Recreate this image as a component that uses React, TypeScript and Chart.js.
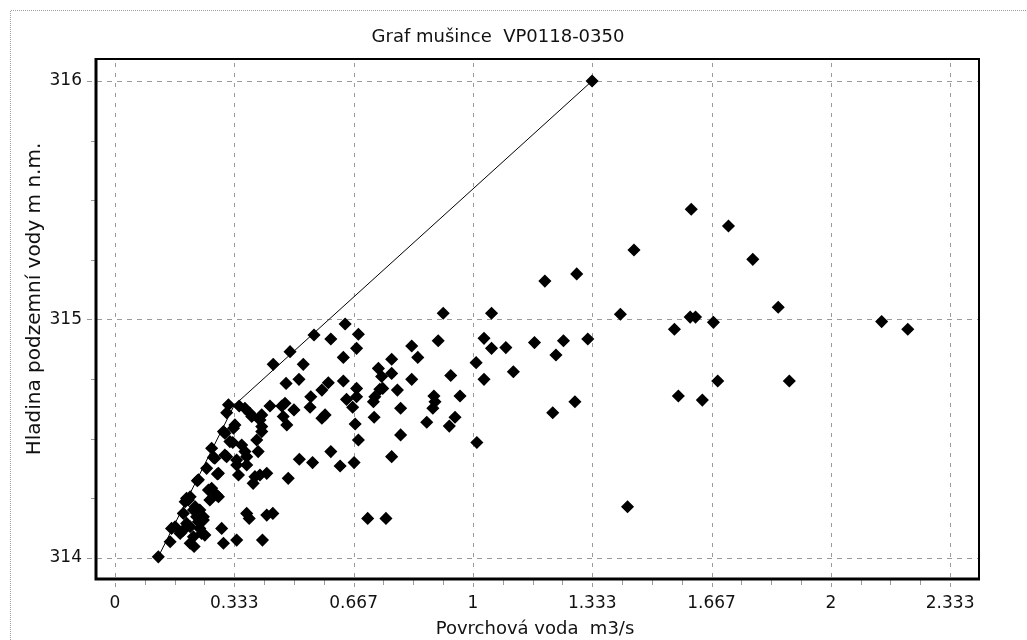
import React, { useEffect, useRef } from "react";
import { Chart, registerables } from "chart.js";

Chart.register(...registerables);

const chartTitle = "Graf mušince  VP0118-0350";
const xAxisTitle = "Povrchová voda  m3/s";
const yAxisTitle = "Hladina podzemní vody m n.m.";

const xTickValues = [0, 0.33333, 0.66667, 1, 1.33333, 1.66667, 2, 2.33333];
const xTickLabels = ["0", "0.333", "0.667", "1", "1.333", "1.667", "2", "2.333"];
const yTickValues = [314, 315, 316];
const yTickLabels = ["314", "315", "316"];

// surface water flow (m3/s)
const flowValues = [
  1.610, 1.714, 1.782, 1.450, 1.290, 1.201, 1.853, 1.412, 1.607, 1.622, 1.672, 2.142, 2.215, 1.563, 1.172, 1.253, 1.321, 1.232, 1.684, 1.884, 1.574, 1.641, 1.285, 1.223, 1.432,
  0.917, 1.052, 0.903, 1.031, 1.052, 1.092, 0.829, 0.846, 0.773, 0.773, 0.829, 0.938, 1.009, 1.031, 1.113, 0.748, 0.789, 0.964, 0.891, 0.894, 0.888, 0.798, 0.871, 0.950, 0.934, 0.798, 0.773, 1.011,
  0.643, 0.680, 0.675, 0.603, 0.556, 0.489, 0.442, 0.526, 0.638, 0.478, 0.514, 0.596, 0.638, 0.578, 0.547, 0.545, 0.675, 0.675, 0.647, 0.664, 0.736, 0.745, 0.740, 0.726, 0.722, 0.724, 0.671, 0.680, 0.587, 0.578, 0.603, 0.668, 0.629, 0.552, 0.515, 0.484,
  0.317, 0.347, 0.363, 0.312, 0.382, 0.410, 0.433, 0.466, 0.500, 0.475, 0.470, 0.480, 0.335, 0.307, 0.410, 0.396, 0.329, 0.354, 0.363, 0.400, 0.368, 0.270, 0.279, 0.312, 0.256, 0.289, 0.340, 0.368, 0.345, 0.386, 0.424, 0.405, 0.410, 0.377, 0.303, 0.331, 0.321, 0.340, 0.307,
  0.230, 0.261, 0.284, 0.265, 0.205, 0.219, 0.247, 0.368, 0.375, 0.424, 0.441, 0.298, 0.303, 0.340, 0.412, 0.121, 0.158, 0.154, 0.182, 0.210, 0.237, 0.251, 0.219, 0.210, 0.221, 0.196, 0.210, 0.224, 0.191, 0.237, 0.233, 0.200, 0.270, 0.289, 0.275, 0.286, 0.233, 0.168, 0.191, 0.242, 0.200, 0.247, 0.228, 0.391, 0.405, 0.706, 0.757, 1.333,
];

// groundwater level (m n.m.)
const levelValues = [
  315.462, 315.392, 315.252, 315.291, 315.191, 315.161, 315.051, 315.022, 315.010, 315.010, 314.988, 314.991, 314.959, 314.959, 314.903, 314.911, 314.918, 314.851, 314.742, 314.742, 314.679, 314.662, 314.655, 314.609, 314.215,
  315.026, 315.026, 314.911, 314.921, 314.879, 314.882, 314.889, 314.841, 314.833, 314.774, 314.749, 314.765, 314.819, 314.749, 314.781, 314.711, 314.704, 314.679, 314.679, 314.655, 314.628, 314.628, 314.569, 314.590, 314.553, 314.516, 314.425, 314.484,
  314.981, 314.938, 314.879, 314.918, 314.935, 314.865, 314.812, 314.812, 314.841, 314.732, 314.749, 314.735, 314.742, 314.704, 314.676, 314.632, 314.711, 314.676, 314.665, 314.632, 314.795, 314.761, 314.707, 314.676, 314.655, 314.590, 314.562, 314.495, 314.600, 314.586, 314.446, 314.400, 314.386, 314.400, 314.414, 314.334,
  314.642, 314.637, 314.628, 314.609, 314.593, 314.600, 314.637, 314.637, 314.621, 314.649, 314.593, 314.558, 314.558, 314.523, 314.551, 314.495, 314.484, 314.474, 314.446, 314.446, 314.425, 314.460, 314.418, 314.425, 314.376, 314.355, 314.390, 314.390, 314.348, 314.313, 314.355, 314.579, 314.530, 314.607, 314.530, 314.544, 314.488, 314.411, 314.432,
  314.324, 314.285, 314.264, 314.243, 314.243, 314.201, 314.173, 314.187, 314.166, 314.180, 314.187, 314.124, 314.062, 314.075, 314.075, 314.005, 314.124, 314.068, 314.103, 314.131, 314.124, 314.096, 314.089, 314.062, 314.048, 314.236, 314.257, 314.215, 314.187, 314.201, 314.152, 314.250, 314.292, 314.257, 314.422, 314.352, 314.328, 314.131, 314.117, 314.103, 314.145, 314.159, 314.173, 314.341, 314.348, 314.166, 314.166, 316.000,
];

// upper envelope line
const envelopeFlow = [0.121, 0.333, 1.333];
const envelopeLevel = [314.005, 314.64, 316.0];

const FONT = "'DejaVu Sans', sans-serif";

const framePlugin = {
  id: "framePlugin",
  beforeDraw(chart: any) {
    const ctx = chart.ctx;
    ctx.save();
    ctx.fillStyle = "#ffffff";
    ctx.fillRect(0, 0, chart.width, chart.height);
    ctx.strokeStyle = "#a0a0a0";
    ctx.lineWidth = 1;
    ctx.setLineDash([1, 1]);
    ctx.beginPath();
    ctx.moveTo(10.5, chart.height);
    ctx.lineTo(10.5, 10.5);
    ctx.lineTo(chart.width, 10.5);
    ctx.stroke();
    ctx.restore();
  },
  beforeDatasetsDraw(chart: any) {
    const ctx = chart.ctx;
    const { left, right, top, bottom } = chart.chartArea;
    const xs = chart.scales.x;
    const ys = chart.scales.y;
    ctx.save();
    ctx.strokeStyle = "#9a9a9a";
    ctx.lineWidth = 1;
    ctx.setLineDash([4, 6]);
    xTickValues.forEach((v) => {
      const px = Math.round(xs.getPixelForValue(v)) + 0.5;
      ctx.beginPath();
      ctx.moveTo(px, top + 4);
      ctx.lineTo(px, bottom + 11);
      ctx.stroke();
    });
    ctx.setLineDash([5, 5]);
    yTickValues.forEach((v) => {
      const py = Math.round(ys.getPixelForValue(v)) + 0.5;
      ctx.beginPath();
      ctx.moveTo(left - 10, py);
      ctx.lineTo(right, py);
      ctx.stroke();
    });
    ctx.setLineDash([]);
    const xStep = (xTickValues[1] - xTickValues[0]) / 4;
    for (let i = 0; i < xTickValues.length; i++) {
      const a = xTickValues[i];
      for (let k = 1; k < 4; k++) {
        const v = a + xStep * k;
        if (v > xs.max) break;
        const px = Math.round(xs.getPixelForValue(v)) + 0.5;
        ctx.beginPath();
        ctx.moveTo(px, bottom + 1);
        ctx.lineTo(px, bottom + 6);
        ctx.stroke();
      }
    }
    for (let i = 0; i + 1 < yTickValues.length; i++) {
      const a = yTickValues[i];
      const b = yTickValues[i + 1];
      for (let k = 1; k < 4; k++) {
        const v = a + ((b - a) * k) / 4;
        const py = Math.round(ys.getPixelForValue(v)) + 0.5;
        ctx.beginPath();
        ctx.moveTo(left - 6, py);
        ctx.lineTo(left - 1, py);
        ctx.stroke();
      }
    }
    ctx.restore();
  },
  afterDatasetsDraw(chart: any) {
    const ctx = chart.ctx;
    const { left, right, top, bottom } = chart.chartArea;
    ctx.save();
    ctx.strokeStyle = "#000000";
    ctx.setLineDash([]);
    ctx.lineWidth = 2;
    ctx.beginPath();
    ctx.moveTo(left, top);
    ctx.lineTo(right, top);
    ctx.lineTo(right, bottom);
    ctx.stroke();
    ctx.lineWidth = 3;
    ctx.beginPath();
    ctx.moveTo(left - 1, top - 1);
    ctx.lineTo(left - 1, bottom);
    ctx.lineTo(right + 1, bottom);
    ctx.stroke();

    ctx.fillStyle = "#111111";
    ctx.font = `18px ${FONT}`;
    ctx.textAlign = "center";
    ctx.textBaseline = "middle";
    ctx.fillText(chartTitle, 498, 37);
    ctx.fillText(xAxisTitle, 535, 629);
    ctx.font = `20px ${FONT}`;
    ctx.translate(35, 299);
    ctx.rotate(-Math.PI / 2);
    ctx.fillText(yAxisTitle, 0, 0);
    ctx.restore();
  },
};

export default function App() {
  const canvasRef = useRef<HTMLCanvasElement | null>(null);

  useEffect(() => {
    if (!canvasRef.current) return;
    const points = flowValues.map((x, i) => ({ x, y: levelValues[i] }));
    const envelope = envelopeFlow.map((x, i) => ({ x, y: envelopeLevel[i] }));
    const chart = new Chart(canvasRef.current, {
      type: "scatter",
      data: {
        datasets: [
          {
            type: "line",
            label: "envelope",
            data: envelope,
            borderColor: "#000000",
            borderWidth: 1,
            pointRadius: 0,
            fill: false,
            tension: 0,
          } as any,
          {
            label: "měření",
            data: points,
            pointStyle: "rectRot",
            pointRadius: 5.5,
            pointHoverRadius: 5.5,
            backgroundColor: "#000000",
            borderColor: "#000000",
            borderWidth: 1.5,
          },
        ],
      },
      options: {
        animation: false,
        responsive: false,
        devicePixelRatio: 1,
        layout: { padding: { top: 59, right: 48, left: 0, bottom: 0 } },
        plugins: {
          legend: { display: false },
          title: { display: false },
          tooltip: { enabled: false },
        },
        scales: {
          x: {
            type: "linear",
            min: -0.0503,
            max: 2.414,
            grid: { display: false, drawTicks: true, tickLength: 10 },
            border: { display: false },
            afterBuildTicks: (scale: any) => {
              scale.ticks = xTickValues.map((v) => ({ value: v }));
            },
            afterFit: (scale: any) => {
              scale.height = 61;
            },
            ticks: {
              autoSkip: false,
              maxRotation: 0,
              padding: 4,
              color: "#111111",
              font: { family: FONT, size: 17 },
              callback: (_v: any, i: number) => xTickLabels[i],
            },
          },
          y: {
            type: "linear",
            min: 313.912,
            max: 316.092,
            grid: { display: false, drawTicks: true, tickLength: 10 },
            border: { display: false },
            afterBuildTicks: (scale: any) => {
              scale.ticks = yTickValues.map((v) => ({ value: v }));
            },
            afterFit: (scale: any) => {
              scale.width = 97;
            },
            ticks: {
              autoSkip: false,
              padding: 5,
              color: "#111111",
              font: { family: FONT, size: 17 },
              callback: (_v: any, i: number) => yTickLabels[i],
            },
          },
        },
      },
      plugins: [framePlugin],
    });
    return () => chart.destroy();
  }, []);

  return (
    <div style={{ position: "absolute", left: 0, top: 0, width: 1027, height: 640, background: "#fff" }}>
      <canvas ref={canvasRef} width={1027} height={640} style={{ display: "block" }} />
    </div>
  );
}
